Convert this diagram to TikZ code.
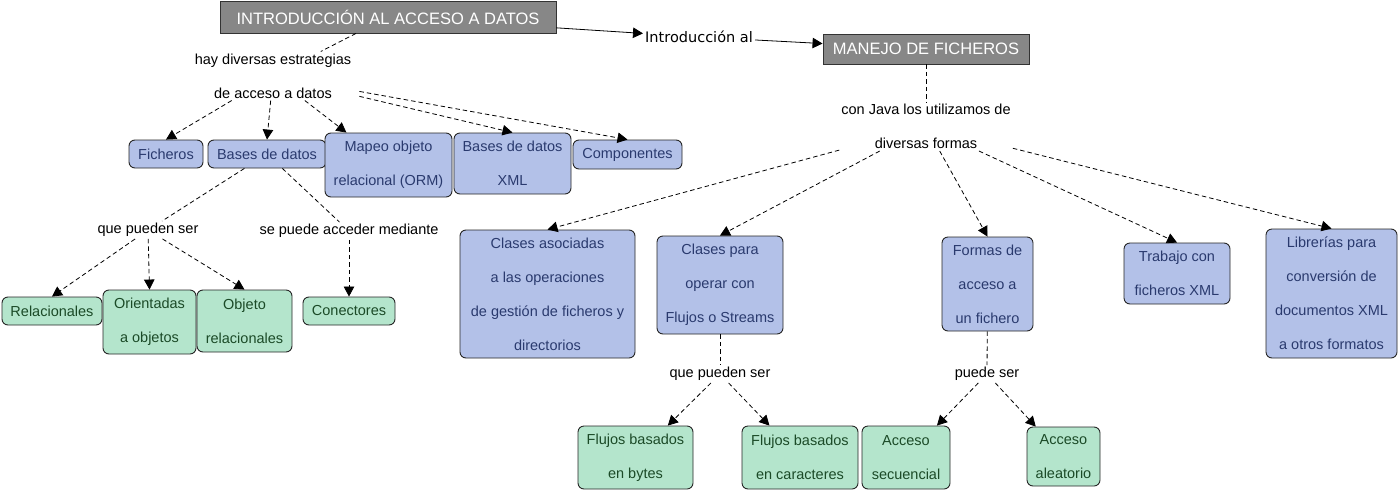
\documentclass[tikz,border=0pt]{standalone}
\usepackage{fontspec}
\setmainfont{Liberation Sans}
\newfontfamily\dejavufont{DejaVu Sans}
\usepackage{xcolor}
\usepackage{tikz}
\usetikzlibrary{arrows.meta}

\definecolor{titlegray}{HTML}{878787}
\definecolor{conceptblue}{HTML}{B3C1E8}
\definecolor{leafgreen}{HTML}{B4E5CC}
\definecolor{textblue}{HTML}{2A3A6E}
\definecolor{textgreen}{HTML}{1B4A27}

\begin{document}
\begin{tikzpicture}[
  x=1pt, y=-1pt,
  every node/.style={font=\fontsize{14.5}{34}\selectfont, align=center, inner sep=0pt},
  title/.style={draw=black!80, fill=titlegray, text=white, line width=0.9pt,
    font=\fontsize{16.5}{20}\selectfont},
  concept/.style={draw=black!85, fill=conceptblue, text=textblue,
    rounded corners=6pt, line width=0.9pt},
  leaf/.style={concept, fill=leafgreen, text=textgreen},
  phrase/.style={inner sep=2pt},
  link/.style={dash pattern=on 4.5pt off 3pt, line width=0.8pt},
  arr/.style={-{Triangle[length=10pt,width=10.5pt]}}
]
  \useasboundingbox (0,0) rectangle (1400,493);

  % main titles
  \node[title, minimum width=336pt, minimum height=32pt] (iad) at (388,17) {INTRODUCCIÓN AL ACCESO A DATOS};
  \node[phrase, font=\dejavufont\fontsize{14.5}{18}\selectfont] (intro) at (699,37) {Introducción al};
  \node[title, minimum width=206pt, minimum height=30pt] (mf) at (926,49) {MANEJO DE FICHEROS};

  % acceso a datos
  \node[phrase, inner xsep=8pt] (hay) at (273,76) {hay diversas estrategias\\de acceso a datos};
  \node[concept, minimum width=74pt, minimum height=28pt] (fich) at (166,154) {Ficheros};
  \node[concept, minimum width=118pt, minimum height=28pt] (bd) at (267,154) {Bases de datos};
  \node[concept, minimum width=127pt, minimum height=64pt] (orm) at (388.5,165) {Mapeo objeto\\relacional (ORM)};
  \node[concept, minimum width=117pt, minimum height=61pt] (bdx) at (512.5,163.5) {Bases de datos\\XML};
  \node[concept, minimum width=109pt, minimum height=29pt] (comp) at (627.5,154.5) {Componentes};

  \node[phrase] (qps) at (148,230) {que pueden ser};
  \node[phrase] (spam) at (349,231) {se puede acceder mediante};
  \node[leaf, minimum width=100pt, minimum height=28pt] (rel) at (52,311) {Relacionales};
  \node[leaf, minimum width=93pt, minimum height=64pt] (oo) at (149.5,322) {Orientadas\\a objetos};
  \node[leaf, minimum width=95pt, minimum height=62pt] (or) at (244.5,321) {Objeto\\relacionales};
  \node[leaf, minimum width=92pt, minimum height=28pt] (con) at (349,311) {Conectores};

  % manejo de ficheros
  \node[phrase] (java) at (926,126.5) {con Java los utilizamos de\\diversas formas};
  \node[concept, minimum width=175pt, minimum height=128pt] (cas) at (547.5,294) {Clases asociadas\\a las operaciones\\de gestión de ficheros y\\directorios};
  \node[concept, minimum width=126pt, minimum height=98pt] (cpo) at (720,285) {Clases para\\operar con\\Flujos o Streams};
  \node[concept, minimum width=91pt, minimum height=94pt] (fac) at (987.5,284) {Formas de\\acceso a\\un fichero};
  \node[concept, minimum width=106pt, minimum height=61pt] (txml) at (1177,273.5) {Trabajo con\\ficheros XML};
  \node[concept, minimum width=131pt, minimum height=129pt] (lib) at (1331.5,293.5) {Librerías para\\conversión de\\documentos XML\\a otros formatos};

  \node[phrase] (qps2) at (720,374) {que pueden ser};
  \node[phrase] (ps) at (987,374) {puede ser};
  \node[leaf, minimum width=115pt, minimum height=63pt] (fb) at (635.5,457.5) {Flujos basados\\en bytes};
  \node[leaf, minimum width=116pt, minimum height=63pt] (fc) at (800,457.5) {Flujos basados\\en caracteres};
  \node[leaf, minimum width=88pt, minimum height=63pt] (as) at (906,457.5) {Acceso\\secuencial};
  \node[leaf, minimum width=73pt, minimum height=59pt] (aa) at (1063.5,456.5) {Acceso\\aleatorio};

  % connectors
  \draw[arr, line width=0.8pt] (iad) -- (intro);
  \draw[arr, line width=0.8pt] (intro) -- (mf);
  \draw[link] (iad) -- (hay);
  \foreach \t in {fich.north,bd.north,orm,bdx.north,comp.north}
    \draw[link,arr] (hay) -- (\t);
  \draw[link] (bd) -- (qps);
  \draw[link] (bd) -- (spam);
  \foreach \t in {rel,oo,or}
    \draw[link,arr] (qps) -- (\t.north);
  \draw[link,arr] (spam) -- (con);

  \draw[link] (mf) -- (java);
  \foreach \t in {cas,cpo,fac,txml,lib}
    \draw[link,arr] (java) -- (\t.north);
  \draw[link] (cpo) -- (qps2);
  \draw[link] (fac) -- (ps);
  \foreach \t in {fb,fc}
    \draw[link,arr] (qps2) -- (\t);
  \foreach \t in {as,aa}
    \draw[link,arr] (ps) -- (\t);
\end{tikzpicture}
\end{document}
